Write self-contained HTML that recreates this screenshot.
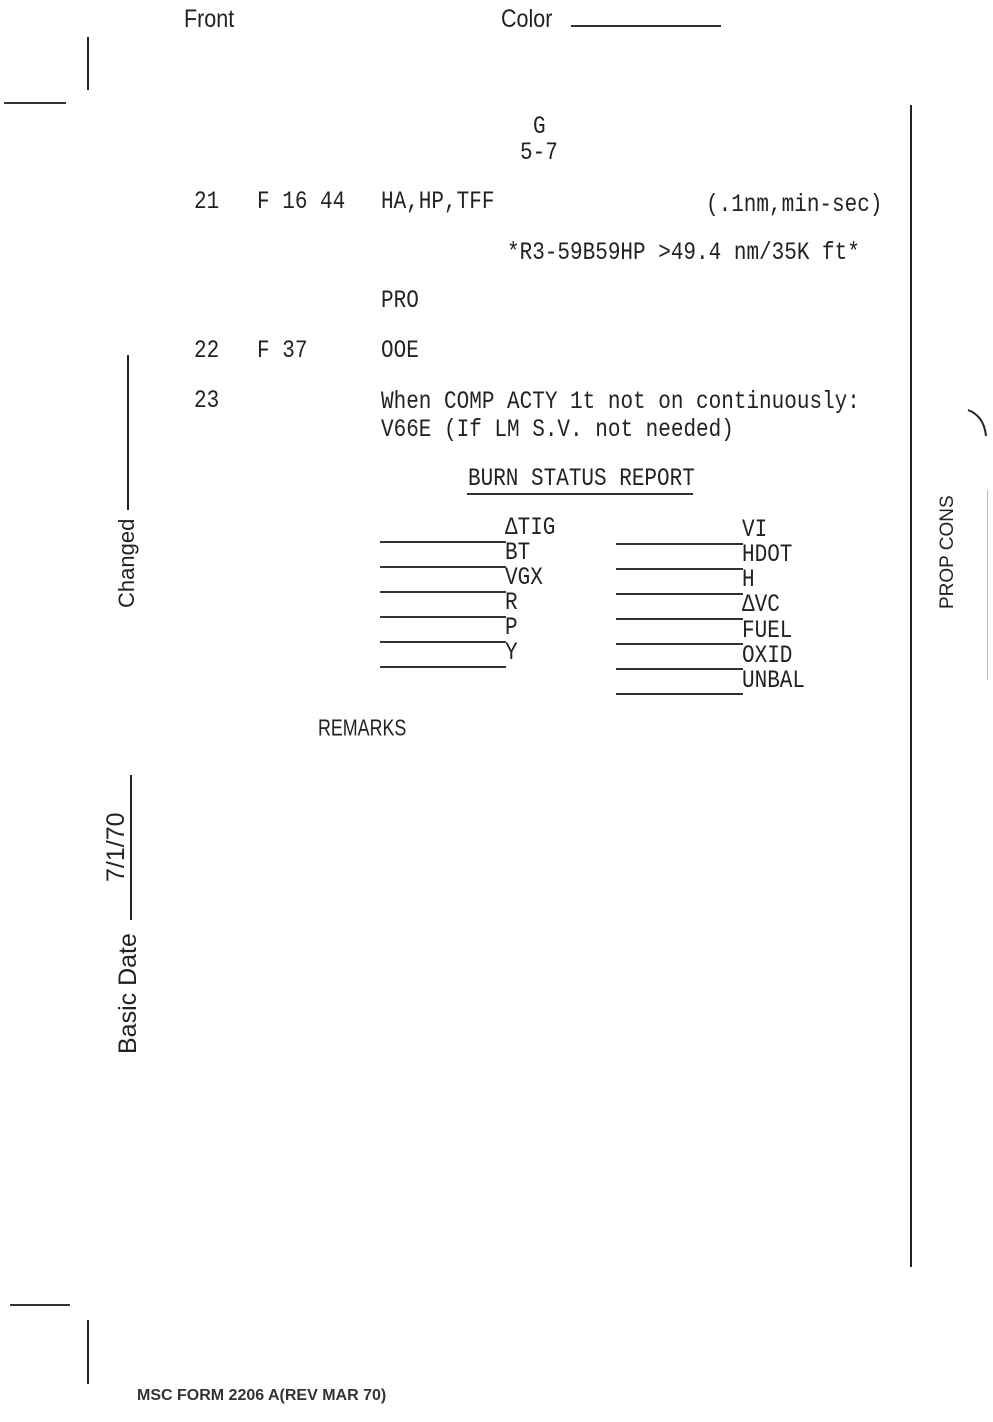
<!DOCTYPE html>
<html><head><meta charset="utf-8"><style>
html,body{margin:0;padding:0;background:#fff;}
body{width:993px;height:1422px;position:relative;overflow:hidden;color:#222;}
.t{position:absolute;font-family:"Liberation Mono",monospace;font-size:21px;line-height:24px;white-space:pre;transform:scaleY(1.2);transform-origin:left center;}
.s{position:absolute;font-family:"Liberation Sans",sans-serif;white-space:pre;}
.h{position:absolute;height:2px;background:#333;}
.v{position:absolute;width:2px;background:#222;}
.r{position:absolute;font-family:"Liberation Sans",sans-serif;font-size:22px;line-height:24px;white-space:pre;transform:rotate(-90deg);transform-origin:left top;}
</style></head><body>
<div class="s" style="left:184px;top:5px;font-size:25px;transform:scaleX(0.86);transform-origin:left;">Front</div>
<div class="s" style="left:501px;top:5px;font-size:25px;transform:scaleX(0.86);transform-origin:left;">Color</div>
<div class="h" style="left:571px;top:25px;width:150px;height:2px;"></div>

<div class="v" style="left:87px;top:37px;height:53px;"></div>
<div class="h" style="left:4px;top:102px;width:62px;"></div>
<div class="h" style="left:10px;top:1304px;width:60px;"></div>
<div class="v" style="left:87px;top:1320px;height:64px;"></div>

<div class="v" style="left:910px;top:105px;height:1162px;width:2px;"></div>
<div class="v" style="left:987px;top:490px;height:190px;width:1px;background:#bbb;"></div>
<svg style="position:absolute;left:960px;top:400px" width="33" height="40"><path d="M8 10 Q24 16 26 36" stroke="#222" stroke-width="2" fill="none"/></svg>
<div class="r" style="left:936px;top:609px;font-size:19px;">PROP CONS</div>

<div class="t" style="left:533px;top:116px;">G</div>
<div class="t" style="left:520px;top:142px;">5-7</div>

<div class="t" style="left:194px;top:191px;">21   F 16 44</div>
<div class="t" style="left:381px;top:191px;">HA,HP,TFF</div>
<div class="t" style="left:706px;top:194px;">(.1nm,min-sec)</div>
<div class="t" style="left:507px;top:242px;">*R3-59B59HP &gt;49.4 nm/35K ft*</div>
<div class="t" style="left:381px;top:290px;">PRO</div>
<div class="t" style="left:194px;top:340px;">22   F 37</div>
<div class="t" style="left:381px;top:340px;">OOE</div>
<div class="t" style="left:194px;top:390px;">23</div>
<div class="t" style="left:381px;top:391px;">When COMP ACTY 1t not on continuously:</div>
<div class="t" style="left:381px;top:419px;">V66E (If LM S.V. not needed)</div>

<div class="t" style="left:468px;top:468px;">BURN STATUS REPORT</div>
<div class="h" style="left:467px;top:493px;width:226px;"></div>

<div class="t" style="left:505px;top:517px;">ΔTIG</div>
<div class="t" style="left:505px;top:542px;">BT</div>
<div class="t" style="left:505px;top:567px;">VGX</div>
<div class="t" style="left:505px;top:592px;">R</div>
<div class="t" style="left:505px;top:617px;">P</div>
<div class="t" style="left:505px;top:642px;">Y</div>
<div class="h" style="left:380px;top:541px;width:126px;"></div>
<div class="h" style="left:380px;top:566px;width:126px;"></div>
<div class="h" style="left:380px;top:591px;width:126px;"></div>
<div class="h" style="left:380px;top:616px;width:126px;"></div>
<div class="h" style="left:380px;top:641px;width:126px;"></div>
<div class="h" style="left:380px;top:666px;width:126px;"></div>

<div class="t" style="left:742px;top:519px;">VI</div>
<div class="t" style="left:742px;top:544px;">HDOT</div>
<div class="t" style="left:742px;top:569px;">H</div>
<div class="t" style="left:742px;top:594px;">ΔVC</div>
<div class="t" style="left:742px;top:620px;">FUEL</div>
<div class="t" style="left:742px;top:645px;">OXID</div>
<div class="t" style="left:742px;top:670px;">UNBAL</div>
<div class="h" style="left:616px;top:543px;width:127px;"></div>
<div class="h" style="left:616px;top:568px;width:127px;"></div>
<div class="h" style="left:616px;top:593px;width:127px;"></div>
<div class="h" style="left:616px;top:618px;width:127px;"></div>
<div class="h" style="left:616px;top:643px;width:127px;"></div>
<div class="h" style="left:616px;top:668px;width:127px;"></div>
<div class="h" style="left:616px;top:693px;width:127px;"></div>

<div class="t" style="left:318px;top:717px;font-family:'Liberation Sans',sans-serif;font-size:21px;transform:scaleX(0.85) scaleY(1.1);">REMARKS</div>

<div class="v" style="left:127px;top:355px;height:155px;"></div>
<div class="r" style="left:115px;top:608px;">Changed</div>
<div class="v" style="left:130px;top:775px;height:145px;"></div>
<div class="r" style="left:102px;top:882px;font-size:25px;line-height:28px;">7/1/70</div>
<div class="r" style="left:114px;top:1054px;font-size:25px;line-height:28px;">Basic Date</div>

<div class="s" style="left:137px;top:1387px;font-size:16px;font-weight:bold;color:#333;">MSC FORM 2206 A(REV MAR 70)</div>
</body></html>
